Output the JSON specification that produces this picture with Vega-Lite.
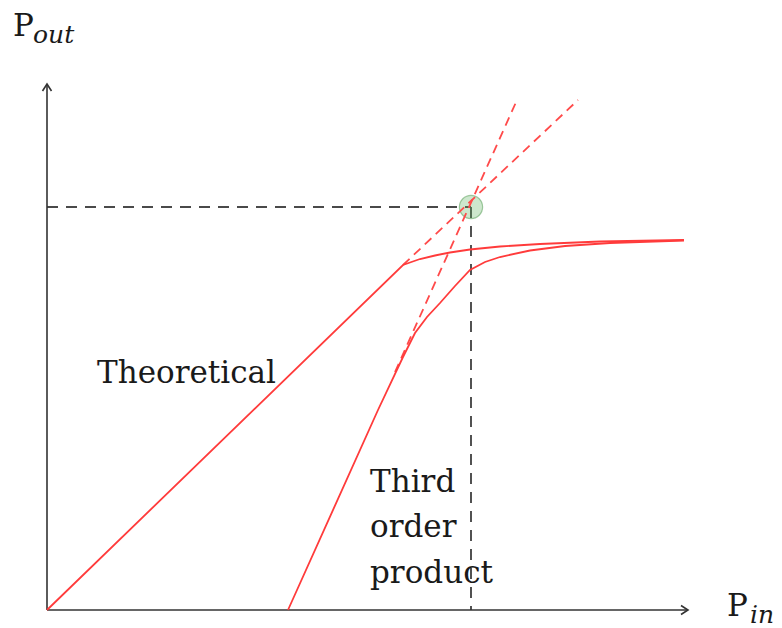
{
  "$schema": "https://vega.github.io/schema/vega-lite/v6.json",
  "width": 782,
  "height": 628,
  "autosize": {"type": "none"},
  "padding": 0,
  "background": "white",
  "config": {"view": {"stroke": null}},
  "datasets": {
    "curves": [
      {"series": "theoretical", "i": 0, "x": 0, "y": 0},
      {"series": "theoretical", "i": 1, "x": 35.6, "y": 34.5},
      {"series": "theoretical", "i": 2, "x": 36.3, "y": 34.75},
      {"series": "theoretical", "i": 3, "x": 37.3, "y": 35.1},
      {"series": "theoretical", "i": 4, "x": 38.8, "y": 35.45},
      {"series": "theoretical", "i": 5, "x": 40.3, "y": 35.75},
      {"series": "theoretical", "i": 6, "x": 42.3, "y": 36.05},
      {"series": "theoretical", "i": 7, "x": 45.3, "y": 36.35},
      {"series": "theoretical", "i": 8, "x": 49.3, "y": 36.6},
      {"series": "theoretical", "i": 9, "x": 55.3, "y": 36.85},
      {"series": "theoretical", "i": 10, "x": 63.7, "y": 37.0},
      {"series": "third", "i": 0, "x": 24.1, "y": 0},
      {"series": "third", "i": 1, "x": 33.1, "y": 20.0},
      {"series": "third", "i": 2, "x": 35.6, "y": 25.3},
      {"series": "third", "i": 3, "x": 36.8, "y": 27.7},
      {"series": "third", "i": 4, "x": 38.0, "y": 29.3},
      {"series": "third", "i": 5, "x": 39.3, "y": 30.7},
      {"series": "third", "i": 6, "x": 40.8, "y": 32.4},
      {"series": "third", "i": 7, "x": 42.3, "y": 34.0},
      {"series": "third", "i": 8, "x": 43.8, "y": 34.8},
      {"series": "third", "i": 9, "x": 45.3, "y": 35.3},
      {"series": "third", "i": 10, "x": 48.3, "y": 35.95},
      {"series": "third", "i": 11, "x": 51.8, "y": 36.4},
      {"series": "third", "i": 12, "x": 56.3, "y": 36.7},
      {"series": "third", "i": 13, "x": 63.7, "y": 36.95}
    ],
    "extensions": [
      {"series": "theoretical", "i": 0, "x": 35.6, "y": 34.5},
      {"series": "theoretical", "i": 1, "x": 53.1, "y": 51.0},
      {"series": "third", "i": 0, "x": 34.8, "y": 23.8},
      {"series": "third", "i": 1, "x": 47.0, "y": 51.0}
    ],
    "guides": [
      {"series": "h", "i": 0, "x": 0, "y": 40.3},
      {"series": "h", "i": 1, "x": 42.4, "y": 40.3},
      {"series": "v", "i": 0, "x": 42.4, "y": 40.3},
      {"series": "v", "i": 1, "x": 42.4, "y": 0}
    ],
    "axes": [
      {"series": "xaxis", "i": 0, "x": 0, "y": 0},
      {"series": "xaxis", "i": 1, "x": 64.1, "y": 0},
      {"series": "yaxis", "i": 0, "x": 0, "y": 0},
      {"series": "yaxis", "i": 1, "x": 0, "y": 52.6},
      {"series": "xhead", "i": 0, "x": 63.4, "y": 0.45},
      {"series": "xhead", "i": 1, "x": 64.1, "y": 0},
      {"series": "xhead", "i": 2, "x": 63.4, "y": -0.45},
      {"series": "yhead", "i": 0, "x": -0.45, "y": 51.9},
      {"series": "yhead", "i": 1, "x": 0, "y": 52.6},
      {"series": "yhead", "i": 2, "x": 0.45, "y": 51.9}
    ],
    "intercept": [{"x": 42.4, "y": 40.3}],
    "labels": [
      {"text": "Theoretical", "x": 5.0, "y": 22.7},
      {"text": "Third", "x": 32.3, "y": 11.8},
      {"text": "order", "x": 32.3, "y": 7.3},
      {"text": "product", "x": 32.3, "y": 2.7}
    ],
    "axisMain": [
      {"text": "P", "x": -3.4, "y": 57.4},
      {"text": "P", "x": 68.0, "y": -0.6}
    ],
    "axisSub": [
      {"text": "out", "x": -1.4, "y": 56.7},
      {"text": "in", "x": 70.3, "y": -1.25}
    ]
  },
  "layer": [
    {
      "data": {"name": "guides"},
      "mark": {"type": "line", "color": "#4a4a4a", "strokeWidth": 1.9, "strokeDash": [11, 8]},
      "encoding": {
        "x": {"field": "x", "type": "quantitative", "scale": {"domain": [-4.7, 73.5], "nice": false, "zero": false}, "axis": null},
        "y": {"field": "y", "type": "quantitative", "scale": {"domain": [-1.8, 61], "nice": false, "zero": false}, "axis": null},
        "detail": {"field": "series"},
        "order": {"field": "i"}
      }
    },
    {
      "data": {"name": "intercept"},
      "mark": {"type": "point", "shape": "circle", "filled": true, "color": "#5aae5a", "fillOpacity": 0.3, "stroke": "#4e9a4e", "strokeOpacity": 0.5, "strokeWidth": 1.2, "size": 540},
      "encoding": {
        "x": {"field": "x", "type": "quantitative"},
        "y": {"field": "y", "type": "quantitative"}
      }
    },
    {
      "data": {"name": "axes"},
      "mark": {"type": "line", "color": "#333333", "strokeWidth": 1.6},
      "encoding": {
        "x": {"field": "x", "type": "quantitative"},
        "y": {"field": "y", "type": "quantitative"},
        "detail": {"field": "series"},
        "order": {"field": "i"}
      }
    },
    {
      "data": {"name": "extensions"},
      "mark": {"type": "line", "color": "#ff4a4a", "strokeWidth": 1.8, "strokeDash": [9, 6]},
      "encoding": {
        "x": {"field": "x", "type": "quantitative"},
        "y": {"field": "y", "type": "quantitative"},
        "detail": {"field": "series"},
        "order": {"field": "i"}
      }
    },
    {
      "data": {"name": "curves"},
      "mark": {"type": "line", "color": "#ff3b3b", "strokeWidth": 1.8, "interpolate": "linear"},
      "encoding": {
        "x": {"field": "x", "type": "quantitative"},
        "y": {"field": "y", "type": "quantitative"},
        "detail": {"field": "series"},
        "order": {"field": "i"}
      }
    },
    {
      "data": {"name": "labels"},
      "mark": {"type": "text", "font": "DejaVu Serif", "fontSize": 31, "align": "left", "baseline": "alphabetic", "color": "#1a1a1a"},
      "encoding": {
        "x": {"field": "x", "type": "quantitative"},
        "y": {"field": "y", "type": "quantitative"},
        "text": {"field": "text"}
      }
    },
    {
      "data": {"name": "axisMain"},
      "mark": {"type": "text", "font": "DejaVu Serif", "fontSize": 31, "align": "left", "baseline": "alphabetic", "color": "#1a1a1a"},
      "encoding": {
        "x": {"field": "x", "type": "quantitative"},
        "y": {"field": "y", "type": "quantitative"},
        "text": {"field": "text"}
      }
    },
    {
      "data": {"name": "axisSub"},
      "mark": {"type": "text", "font": "DejaVu Serif", "fontStyle": "italic", "fontSize": 25, "align": "left", "baseline": "alphabetic", "color": "#1a1a1a"},
      "encoding": {
        "x": {"field": "x", "type": "quantitative"},
        "y": {"field": "y", "type": "quantitative"},
        "text": {"field": "text"}
      }
    }
  ]
}
